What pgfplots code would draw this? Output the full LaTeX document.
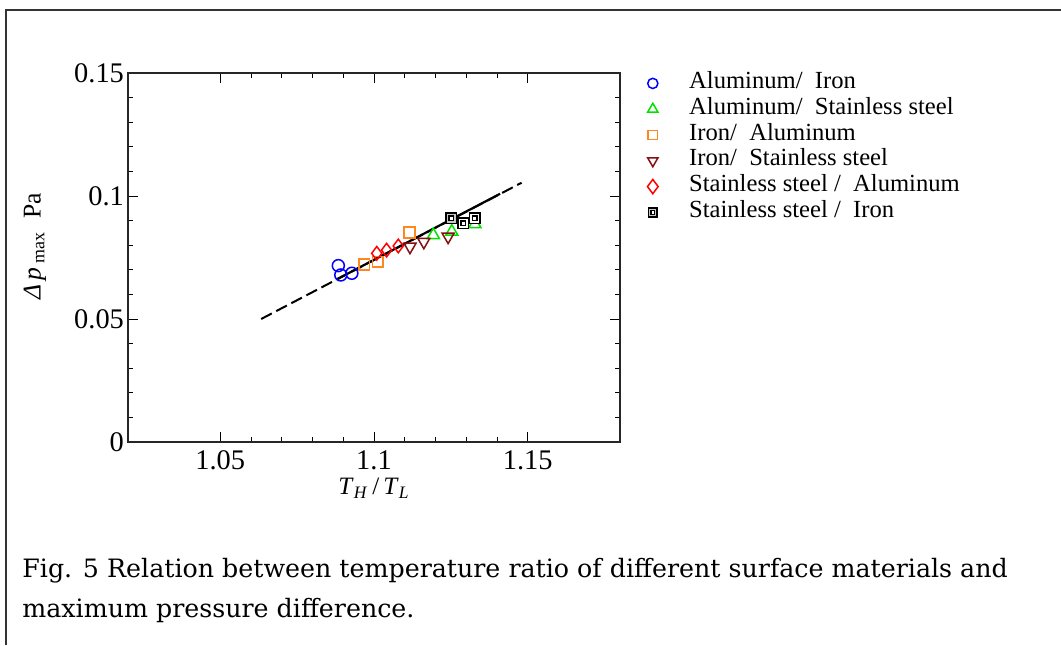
\documentclass[border=0pt]{standalone}
\usepackage{fontspec}
\setmainfont{Liberation Serif}
\newfontfamily\capfont{DejaVu Serif}
\usepackage{pgfplots}
\pgfplotsset{compat=1.18}

\definecolor{cblue}{RGB}{0,0,255}
\definecolor{cgreen}{RGB}{0,225,0}
\definecolor{corange}{RGB}{255,135,30}
\definecolor{cdred}{RGB}{135,15,15}
\definecolor{cred}{RGB}{255,0,0}

% square with a small white square inside
\pgfdeclareplotmark{dsq}{%
  \pgfpathrectangle{\pgfpoint{-\pgfplotmarksize}{-\pgfplotmarksize}}{\pgfpoint{2\pgfplotmarksize}{2\pgfplotmarksize}}%
  \pgfusepath{fill,stroke}%
  \pgfsetfillcolor{white}%
  \pgfpathrectangle{\pgfpoint{-0.42\pgfplotmarksize}{-0.42\pgfplotmarksize}}{\pgfpoint{0.84\pgfplotmarksize}{0.84\pgfplotmarksize}}%
  \pgfusepath{fill,stroke}%
}
% legend marker at full size (for the diamond)
\pgfplotsset{bigleg/.style={legend image code/.code={\draw[##1, every mark/.append style={scale=1.05}] plot coordinates {(0pt,0pt)};}}}

\begin{document}
\begin{tikzpicture}
\useasboundingbox (0,0) rectangle (530.5pt,322.5pt);
% frame
\draw[line width=1pt, black!80] (3pt,0) -- (3pt,317.7pt) -- (530.5pt,317.7pt);

\begin{axis}[
    at={(64pt,101.5pt)}, anchor=south west,
    scale only axis,
    width=246pt, height=184.5pt,
    xmin=1.02, xmax=1.18,
    ymin=0, ymax=0.15,
    xtick={1.05,1.1,1.15},
    ytick={0,0.05,0.1,0.15},
    minor x tick num=4,
    minor y tick num=4,
    scaled ticks=false,
    tick align=inside,
    major tick length=5pt,
    minor tick length=2.5pt,
    tick style={line width=0.5pt, black},
    axis line style={line width=1pt, black!85},
    /pgf/number format/.cd, fixed, precision=2, assume math mode=true,
    /pgfplots/.cd,
    ticklabel style={font=\fontsize{14.2}{15}\selectfont},
    yticklabel style={xshift=1.5pt},
    xticklabel style={yshift=-1pt},
    xlabel={\textit{T}\textsubscript{\textit{H}}\,/\,\textit{T}\textsubscript{\textit{L}}},
    xlabel style={at={(axis description cs:0.5,-0.125)}, anchor=center,
        font=\fontsize{12.5}{14}\selectfont},
    ylabel={\textit{Δ\,p}\,\textsubscript{max}\ \ Pa},
    ylabel style={at={(axis description cs:-0.189,0.53)}, anchor=center,
        font=\fontsize{12.8}{14}\selectfont},
    legend style={at={(axis description cs:1.055,1.0)}, anchor=north west,
        draw=none, fill=none, inner sep=0pt, row sep=2.9pt, column sep=15.5pt,
        font=\fontsize{12.3}{13}\selectfont,
        nodes={inner sep=0pt, text height=0.75em, text depth=0.25em}},
    legend cell align=left,
    legend image code/.code={\draw[#1, every mark/.append style={scale=0.85}] plot coordinates {(0pt,0pt)};},
]
% model line
\addplot[forget plot, black, line width=1pt, dash pattern=on 6pt off 2.5pt]
    coordinates {(1.0633,0.0500) (1.148,0.1054)};
\addplot[forget plot, black, line width=1.1pt]
    coordinates {(1.088,0.0662) (1.141,0.1009)};

\addplot[only marks, mark=o, mark size=3pt, cblue, line width=0.75pt]
    coordinates {(1.0884,0.0717) (1.0892,0.0679) (1.0928,0.0686)};
\addlegendentry{Aluminum/\ \ Iron}
\addplot[only marks, mark=triangle, mark size=3.5pt, cgreen, line width=0.75pt]
    coordinates {(1.1193,0.0841) (1.1253,0.0855) (1.1328,0.0886)};
\addlegendentry{Aluminum/\ \ Stainless steel}
\addplot[only marks, mark=square, mark size=2.7pt, corange, line width=0.75pt]
    coordinates {(1.0968,0.0722) (1.1012,0.0733) (1.1115,0.0852)};
\addlegendentry{Iron/\ \ Aluminum}
\addplot[only marks, mark=triangle, mark options={rotate=180}, mark size=3.5pt, cdred, line width=0.75pt]
    coordinates {(1.1117,0.0794) (1.1162,0.0814) (1.1241,0.0835)};
\addlegendentry{Iron/\ \ Stainless steel}
\addplot[only marks, mark=diamond, mark size=3.4pt, cred, line width=0.75pt, bigleg]
    coordinates {(1.1009,0.0767) (1.1041,0.0780) (1.1079,0.0797)};
\addlegendentry{Stainless steel /\ \ Aluminum}
\addplot[only marks, mark=dsq, mark size=2.6pt, mark options={draw=black, fill=gray!45}, line width=0.75pt]
    coordinates {(1.1251,0.0909) (1.1290,0.0889) (1.1328,0.0909)};
\addlegendentry{Stainless steel /\ \ Iron}
\end{axis}

% caption
\node[anchor=base west, inner sep=0pt, font=\capfont\fontsize{12.65}{14}\selectfont]
    at (11pt,34pt) {Fig. 5 Relation between temperature ratio of different surface materials and};
\node[anchor=base west, inner sep=0pt, font=\capfont\fontsize{12.65}{14}\selectfont]
    at (11pt,14pt) {maximum pressure difference.};
\end{tikzpicture}
\end{document}
